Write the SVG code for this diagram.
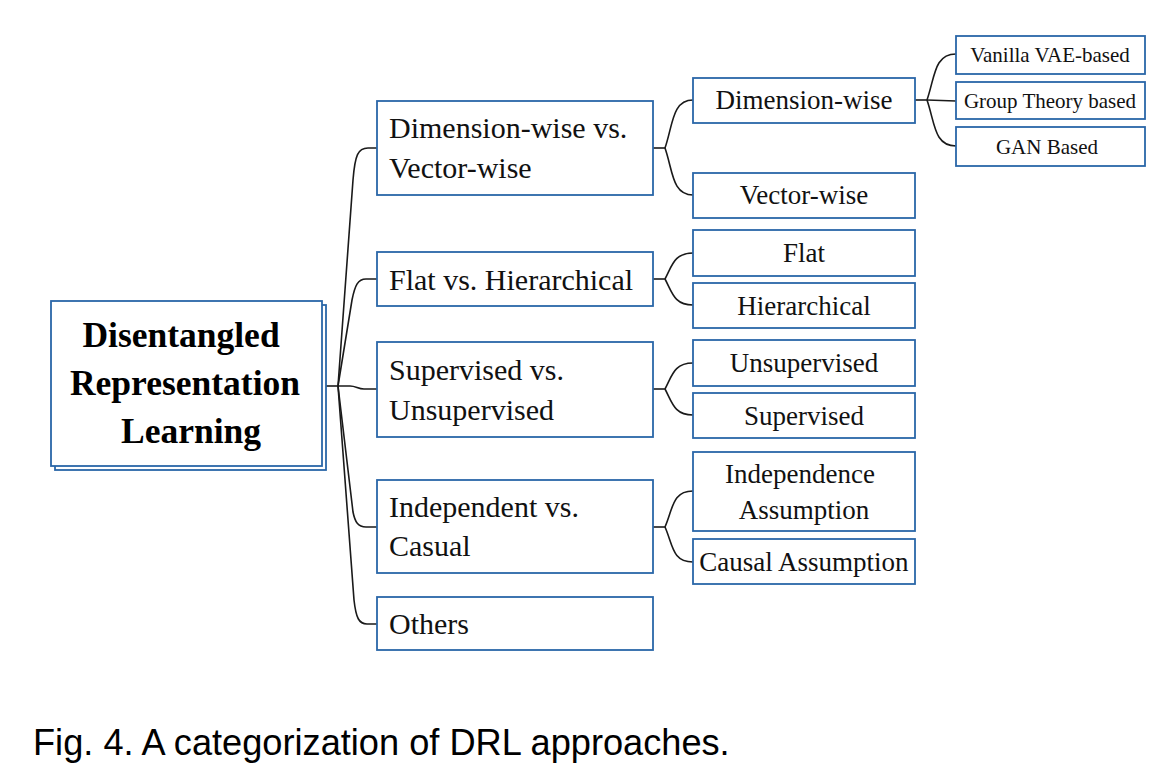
<svg xmlns="http://www.w3.org/2000/svg" width="1170" height="784" viewBox="0 0 1170 784">
<style>
.box{fill:#fff;stroke:#2a66a8;stroke-width:1.8}
.c{fill:none;stroke:#1a1a1a;stroke-width:1.6}
.t1{font-family:"Liberation Serif","Times New Roman",serif;font-size:30px;fill:#111}
.t2{font-family:"Liberation Serif","Times New Roman",serif;font-size:27px;fill:#111;text-anchor:middle}
.t3{font-family:"Liberation Serif","Times New Roman",serif;font-size:21px;fill:#111;text-anchor:middle}
.tm{font-family:"Liberation Serif","Times New Roman",serif;font-size:35.5px;font-weight:bold;fill:#000;text-anchor:middle}
.cap{font-family:"Liberation Sans",Arial,sans-serif;font-size:36.2px;fill:#000}
</style>
<rect width="1170" height="784" fill="#fff"/>

<g id="connectors">
  <path class="c" d="M322,386 L338,386"/>
  <path class="c" d="M338,386 L353,180 C355,155 358,148 368,148 L377,148"/>
  <path class="c" d="M338,386 L352,300 C355,285 358,279 366,279 L377,279"/>
  <path class="c" d="M338,386 L350,386 C356,386 358,389 364,389 L377,389"/>
  <path class="c" d="M338,386 L353,512 C355,522 358,527 366,527 L377,527"/>
  <path class="c" d="M338,386 L354,600 C356,618 359,624 367,624 L377,624"/>

  <path class="c" d="M653,148 L665,148"/>
  <path class="c" d="M665,148 C673,125 672,100 693,100"/>
  <path class="c" d="M665,148 C673,171 672,195 693,195"/>

  <path class="c" d="M653,279 L665,279"/>
  <path class="c" d="M665,279 C672,266 674,253 693,253"/>
  <path class="c" d="M665,279 C672,292 674,305 693,305"/>

  <path class="c" d="M653,389 L665,389"/>
  <path class="c" d="M665,389 C672,376 674,363 693,363"/>
  <path class="c" d="M665,389 C672,402 674,415 693,415"/>

  <path class="c" d="M653,527 L665,527"/>
  <path class="c" d="M665,527 C673,509 672,491 693,491"/>
  <path class="c" d="M665,527 C673,545 672,562 693,562"/>

  <path class="c" d="M915,100 L927,100"/>
  <path class="c" d="M927,100 C935,77 934,54 956,54"/>
  <path class="c" d="M927,100 L956,101"/>
  <path class="c" d="M927,100 C935,123 934,146 956,146"/>
</g>

<g id="root">
  <rect class="box" x="55" y="305" width="271" height="165"/>
  <rect class="box" x="51" y="301" width="271" height="165"/>
  <text class="tm" x="181" y="347">Disentangled</text>
  <text class="tm" x="185" y="395">Representation</text>
  <text class="tm" x="191" y="443">Learning</text>
</g>

<g id="dim-vs-vec">
  <rect class="box" x="377" y="101" width="276" height="94"/>
  <text class="t1" x="389" y="138">Dimension-wise vs.</text>
  <text class="t1" x="389" y="178">Vector-wise</text>
</g>
<g id="flat-vs-hier">
  <rect class="box" x="377" y="252" width="276" height="54"/>
  <text class="t1" x="389" y="290">Flat vs. Hierarchical</text>
</g>
<g id="sup-vs-unsup">
  <rect class="box" x="377" y="342" width="276" height="95"/>
  <text class="t1" x="389" y="380">Supervised vs.</text>
  <text class="t1" x="389" y="420">Unsupervised</text>
</g>
<g id="ind-vs-cas">
  <rect class="box" x="377" y="480" width="276" height="93"/>
  <text class="t1" x="389" y="517">Independent vs.</text>
  <text class="t1" x="389" y="556">Casual</text>
</g>
<g id="others">
  <rect class="box" x="377" y="597" width="276" height="53"/>
  <text class="t1" x="389" y="634">Others</text>
</g>

<g id="dimension-wise">
  <rect class="box" x="693" y="78" width="222" height="45"/>
  <text class="t2" x="804" y="109">Dimension-wise</text>
</g>
<g id="vector-wise">
  <rect class="box" x="693" y="173" width="222" height="45"/>
  <text class="t2" x="804" y="204">Vector-wise</text>
</g>
<g id="flat">
  <rect class="box" x="693" y="230" width="222" height="46"/>
  <text class="t2" x="804" y="262">Flat</text>
</g>
<g id="hierarchical">
  <rect class="box" x="693" y="283" width="222" height="45"/>
  <text class="t2" x="804" y="315">Hierarchical</text>
</g>
<g id="unsupervised">
  <rect class="box" x="693" y="340" width="222" height="46"/>
  <text class="t2" x="804" y="372">Unsupervised</text>
</g>
<g id="supervised">
  <rect class="box" x="693" y="393" width="222" height="45"/>
  <text class="t2" x="804" y="425">Supervised</text>
</g>
<g id="independence">
  <rect class="box" x="693" y="452" width="222" height="79"/>
  <text class="t2" x="800" y="483">Independence</text>
  <text class="t2" x="804" y="519">Assumption</text>
</g>
<g id="causal">
  <rect class="box" x="693" y="539" width="222" height="45"/>
  <text class="t2" x="804" y="571">Causal Assumption</text>
</g>

<g id="vanilla">
  <rect class="box" x="956" y="36" width="189" height="38"/>
  <text class="t3" x="1050" y="62">Vanilla VAE-based</text>
</g>
<g id="group">
  <rect class="box" x="956" y="82" width="189" height="37"/>
  <text class="t3" x="1050" y="108">Group Theory based</text>
</g>
<g id="gan">
  <rect class="box" x="956" y="127" width="189" height="39"/>
  <text class="t3" x="1047" y="154">GAN Based</text>
</g>

<text class="cap" x="33" y="755">Fig. 4. A categorization of DRL approaches.</text>
</svg>
